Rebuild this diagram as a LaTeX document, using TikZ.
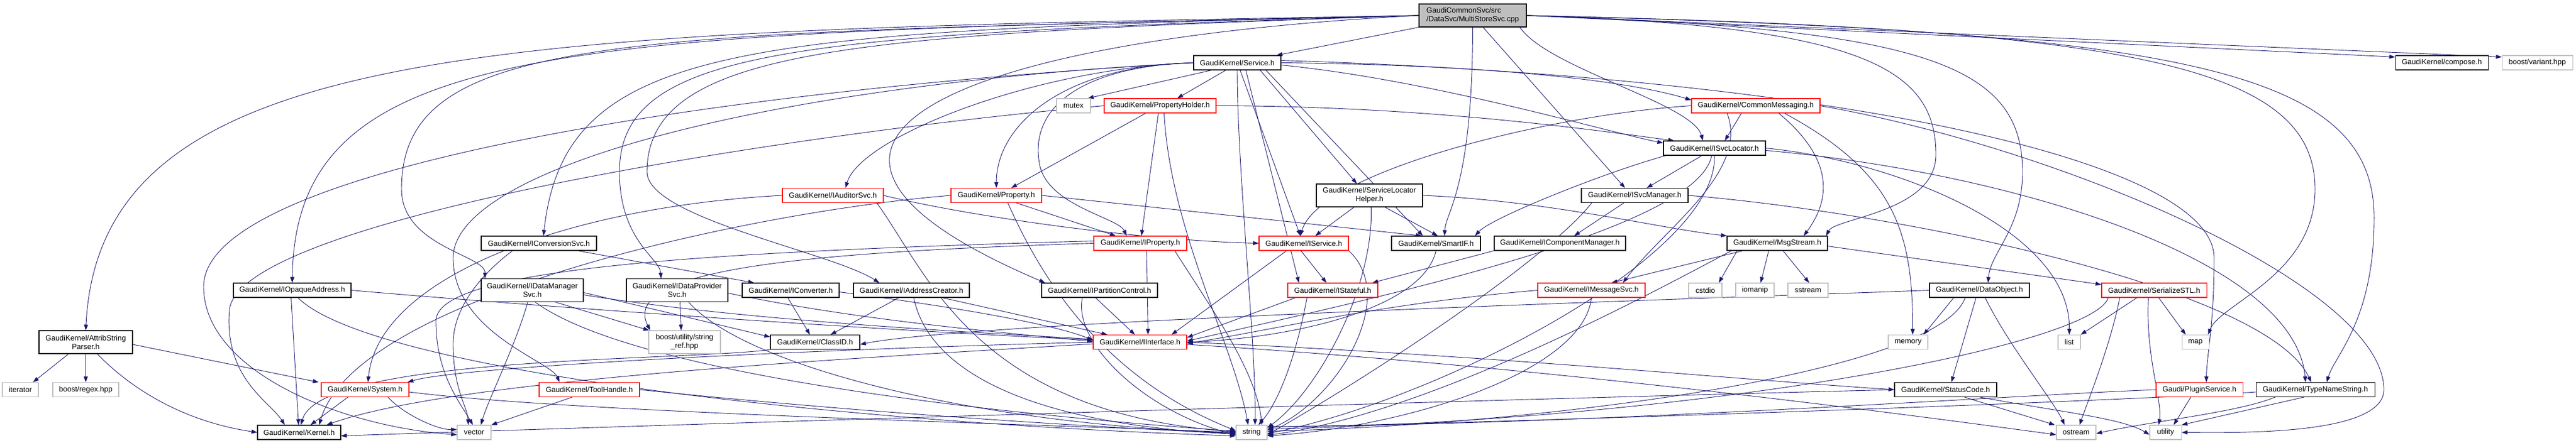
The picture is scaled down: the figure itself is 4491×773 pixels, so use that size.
\documentclass[tikz,border=0pt]{standalone}
\usepackage{fontspec}
\setmainfont{Liberation Sans}
\usetikzlibrary{arrows.meta,backgrounds}
\definecolor{edgec}{HTML}{191970}
\definecolor{dred}{HTML}{FF0000}
\definecolor{dgray}{HTML}{BFBFBF}
\newcommand\nd[7]{\node[#1,minimum width=#5pt,minimum height=#6pt] (#2) at (#3,#4) {#7};}
\begin{document}
\begin{tikzpicture}[x=1pt,y=-1pt,
  edg/.style={draw=edgec,line width=0.9pt,-{Triangle[length=10pt,width=7pt]}},
  nbase/.style={line width=1.1pt,fill=white,inner sep=0pt,align=center,font=\fontsize{13}{15}\selectfont},
  nb/.style={nbase,draw=black},
  nr/.style={nbase,draw=dred},
  ng/.style={nbase,draw=dgray},
  nm/.style={nbase,draw=black,fill=dgray,align=left}]
\useasboundingbox (0,0) rectangle (4491,773);
% ---------- nodes ----------
\nd{nm}{main}{2567.5}{27}{187}{40}{GaudiCommonSvc/src\\/DataSvc/MultiStoreSvc.cpp}
\nd{nb}{svc}{2157}{109.5}{152}{25}{GaudiKernel/Service.h}
\nd{nb}{compose}{4257}{109.5}{162}{25}{GaudiKernel/compose.h}
\nd{ng}{variant}{4423.5}{109.5}{123}{25}{boost/variant.hpp}
\nd{ng}{mutex}{1871.5}{184.5}{59}{25}{mutex}
\nd{nr}{ph}{2022.5}{184.5}{195}{25}{GaudiKernel/PropertyHolder.h}
\nd{nr}{cm}{3061}{184.5}{224}{25}{GaudiKernel/CommonMessaging.h}
\nd{nb}{islo}{2989}{258.5}{178}{25}{GaudiKernel/ISvcLocator.h}
\nd{nr}{iaud}{1452}{341}{176}{25}{GaudiKernel/IAuditorSvc.h}
\nd{nr}{prop}{1737}{341}{158}{25}{GaudiKernel/Property.h}
\nd{nb}{slh}{2387.5}{341}{185}{40}{GaudiKernel/ServiceLocator\\Helper.h}
\nd{nb}{ism}{2850}{341}{186}{25}{GaudiKernel/ISvcManager.h}
\nd{nb}{icv}{939.5}{424.5}{201}{25}{GaudiKernel/IConversionSvc.h}
\nd{nr}{iprop}{1988}{424.5}{162}{25}{GaudiKernel/IProperty.h}
\nd{nr}{isrv}{2273}{424.5}{156}{25}{GaudiKernel/IService.h}
\nd{nb}{smart}{2503.5}{424.5}{155}{25}{GaudiKernel/SmartIF.h}
\nd{nb}{icm}{2719.5}{424.5}{229}{25}{GaudiKernel/IComponentManager.h}
\nd{nb}{ms}{3098.5}{424.5}{175}{25}{GaudiKernel/MsgStream.h}
\nd{nb}{ioa}{509.5}{506.5}{205}{25}{GaudiKernel/IOpaqueAddress.h}
\nd{nb}{idm}{928}{506.5}{178}{40}{GaudiKernel/IDataManager\\Svc.h}
\nd{nb}{idp}{1180.5}{506.5}{177}{40}{GaudiKernel/IDataProvider\\Svc.h}
\nd{nb}{icvt}{1378.5}{506.5}{169}{25}{GaudiKernel/IConverter.h}
\nd{nb}{iac}{1589}{506.5}{202}{25}{GaudiKernel/IAddressCreator.h}
\nd{nb}{ipc}{1917}{506.5}{202}{25}{GaudiKernel/IPartitionControl.h}
\nd{nr}{ist}{2323.5}{506.5}{157}{25}{GaudiKernel/IStateful.h}
\nd{nr}{imsg}{2774.5}{506.5}{187}{25}{GaudiKernel/IMessageSvc.h}
\nd{ng}{cstdio}{2973}{506.5}{58}{25}{cstdio}
\nd{ng}{iomanip}{3059.5}{506.5}{67}{25}{iomanip}
\nd{ng}{sstream}{3152}{506.5}{70}{25}{sstream}
\nd{nb}{do}{3451}{506.5}{174}{25}{GaudiKernel/DataObject.h}
\nd{nr}{ser}{3755.5}{506.5}{183}{25}{GaudiKernel/SerializeSTL.h}
\nd{nb}{asp}{149.5}{597}{163}{40}{GaudiKernel/AttribString\\Parser.h}
\nd{ng}{sref}{1193.5}{597}{125}{40}{boost/utility/string\\\_ref.hpp}
\nd{nb}{cid}{1421}{597}{156}{25}{GaudiKernel/ClassID.h}
\nd{nr}{iint}{1987.5}{597}{163}{25}{GaudiKernel/IInterface.h}
\nd{ng}{memory}{3326.5}{597}{69}{25}{memory}
\nd{ng}{list}{3607.5}{597}{39}{25}{list}
\nd{ng}{map}{3827.5}{597}{47}{25}{map}
\nd{ng}{iter}{35.5}{680}{63}{25}{iterator}
\nd{ng}{regex}{149.5}{680}{115}{25}{boost/regex.hpp}
\nd{nr}{sys}{636.5}{680}{153}{25}{GaudiKernel/System.h}
\nd{nr}{th}{1027.5}{680}{175}{25}{GaudiKernel/ToolHandle.h}
\nd{nb}{sc}{3392}{680}{178}{25}{GaudiKernel/StatusCode.h}
\nd{nr}{plug}{3834.5}{680}{151}{25}{Gaudi/PluginService.h}
\nd{nb}{tns}{4036.5}{680}{207}{25}{GaudiKernel/TypeNameString.h}
\nd{nb}{kern}{521.5}{754.5}{145}{25}{GaudiKernel/Kernel.h}
\nd{ng}{vec}{826.5}{754.5}{59}{25}{vector}
\nd{ng}{str}{2182}{754.5}{54}{25}{string}
\nd{ng}{ostream}{3619.5}{754.5}{69}{25}{ostream}
\nd{ng}{util}{3775.5}{754.5}{55}{25}{utility}
% ---------- edges ----------
\begin{scope}[on background layer]
% main
\draw[edg] (main.west) .. controls (900,55) and (175,60) .. (asp.north);
\draw[edg] (main.west) .. controls (1000,60) and (515,60) .. (ioa.north);
\draw[edg] (main.west) .. controls (1100,60) and (700,50) .. (700,330) .. controls (700,430) and (846,445) .. ([xshift=7pt]idm.north west);
\draw[edg] (main.west) .. controls (1300,55) and (985,70) .. ([xshift=8pt]icv.north);
\draw[edg] (main.west) .. controls (1400,60) and (1080,80) .. (1080,300) .. controls (1080,420) and (1150,450) .. ([xshift=-28pt]idp.north);
\draw[edg] (main.west) .. controls (1500,60) and (1128,80) .. (1128,300) .. controls (1128,380) and (1450,440) .. ([xshift=-56pt]iac.north);
\draw[edg] (main.west) .. controls (1650,70) and (1250,250) .. ([xshift=-95pt]ipc.north);
\draw[edg] (main.south west) -- ([xshift=-8pt]svc.north east);
\draw[edg] ([xshift=-12pt]main.south east) .. controls (2700,120) and (2950,180) .. ([xshift=-20pt]islo.north);
\draw[edg] ([xshift=18pt]main.south) -- ([xshift=-17pt]ism.north);
\draw[edg] (main.south) .. controls (2567,330) and (2520,370) .. ([xshift=15pt]smart.north);
\draw[edg] (main.east) .. controls (3250,45) and (3375,120) .. (3375,270) .. controls (3375,370) and (3200,380) .. ([xshift=-3pt]ms.north east);
\draw[edg] (main.east) .. controls (3350,50) and (3526,110) .. (3526,300) .. controls (3526,400) and (3470,440) .. ([xshift=15pt]do.north);
\draw[edg] (main.east) .. controls (3700,50) and (4036,110) .. (4036,330) .. controls (4036,480) and (3870,530) .. ([xshift=-2pt]map.north east);
\draw[edg] (main.east) .. controls (3800,55) and (4139,120) .. (4139,380) .. controls (4139,560) and (4070,620) .. ([xshift=20pt]tns.north);
\draw[edg] (main.east) -- ([yshift=-3pt]compose.north west);
\draw[edg] (main.east) -- ([yshift=-3pt]variant.north west);
% Service.h
\draw[edg] ([xshift=-45pt]svc.south) -- ([xshift=-5pt]mutex.north east);
\draw[edg] ([xshift=-20pt]svc.south) -- ([xshift=30pt]ph.north);
\draw[edg] (svc.west) .. controls (1850,115) and (1737,220) .. (prop.north);
\draw[edg] (svc.west) .. controls (1800,120) and (1500,240) .. ([xshift=22pt]iaud.north);
\draw[edg] (svc.east) .. controls (2500,112) and (2800,130) .. ([yshift=-3pt]cm.north west);
\draw[edg] ([yshift=-4pt]svc.east) .. controls (2500,140) and (2800,230) .. ([yshift=-4pt]islo.north west);
\draw[edg] ([xshift=40pt]svc.south) -- ([xshift=-22pt]slh.north);
\draw[edg] ([xshift=50pt]svc.south) -- ([xshift=-23pt]smart.north);
\draw[edg] ([xshift=5pt]svc.south) -- ([xshift=-6pt]isrv.north);
\draw[edg] ([xshift=15pt]svc.south) -- ([xshift=-59pt]ist.north);
\draw[edg] (svc.west) .. controls (1900,115) and (1790,180) .. (1813,290) .. controls (1830,360) and (1950,380) .. ([xshift=-24pt]iprop.north);
\draw[edg] (svc.west) .. controls (1300,150) and (790,300) .. (790,450) .. controls (790,580) and (960,630) .. ([xshift=-52pt]th.north);
\draw[edg] ([yshift=4pt]svc.east) .. controls (3200,135) and (3860,280) .. (3860,450) .. controls (3860,570) and (3847,620) .. ([xshift=12pt]plug.north);
\draw[edg] (svc.west) .. controls (1200,160) and (355,300) .. (355,500) .. controls (355,650) and (600,745) .. ([yshift=-4pt]vec.west);
\draw[edg] (svc.south) .. controls (2157,300) and (2190,600) .. ([xshift=6pt]str.north);
% PropertyHolder.h
\draw[edg] ([xshift=-25pt]ph.south) -- ([xshift=26pt]prop.north);
\draw[edg] ([xshift=-3pt]ph.south) -- ([xshift=2pt]iprop.north);
\draw[edg] ([xshift=7pt]ph.south) .. controls (2040,400) and (2150,600) .. ([xshift=-6pt]str.north);
\draw[edg] (ph.east) .. controls (2500,185) and (2800,230) .. ([xshift=19pt]islo.north west);
\draw[edg] (ph.west) .. controls (1400,230) and (420,380) .. (400,540) .. controls (390,660) and (470,700) .. ([xshift=-25pt]kern.north);
% Property.h
\draw[edg] ([xshift=35pt]prop.south) -- ([xshift=-43pt]iprop.north);
\draw[edg] (prop.east) -- ([xshift=-25pt]smart.north);
\draw[edg] ([xshift=20pt]prop.south) .. controls (1800,450) and (1900,650) .. ([yshift=3pt]str.west);
\draw[edg] (prop.west) .. controls (1300,370) and (620,520) .. ([xshift=35pt]kern.north);
% IAuditorSvc.h
\draw[edg] (iaud.east) .. controls (1700,380) and (2000,420) .. (isrv.west);
\draw[edg] ([xshift=-12pt]iaud.south east) .. controls (1620,480) and (1700,720) .. ([yshift=1pt]str.west);
\draw[edg] (iaud.west) .. controls (1000,360) and (660,480) .. ([xshift=5pt]sys.north);
% ServiceLocatorHelper.h
\draw[edg] ([xshift=-27pt]slh.south) -- ([xshift=20pt]isrv.north);
\draw[edg] ([xshift=3pt]slh.south) .. controls (2395,500) and (2300,680) .. ([yshift=8pt]str.east);
\draw[edg] ([xshift=27pt]slh.south) -- ([xshift=3pt]smart.north);
\draw[edg] (slh.east) .. controls (2700,350) and (2900,400) .. (ms.north west);
% ISvcLocator.h
\draw[edg] ([xshift=-22pt]islo.south) -- ([xshift=21pt]ism.north);
\draw[edg] ([xshift=-85pt]islo.south) .. controls (2800,300) and (2600,380) .. ([xshift=-10pt]smart.north east);
\draw[edg] ([xshift=-5pt]islo.south) .. controls (2960,400) and (2400,520) .. ([yshift=2pt]iint.east);
\draw[edg] (islo.south) .. controls (2995,450) and (2500,700) .. ([yshift=-2pt]str.east);
\draw[edg] (islo.east) .. controls (3300,280) and (3610,400) .. (list.north);
\draw[edg] ([yshift=-4pt]islo.east) .. controls (3500,300) and (4000,450) .. ([xshift=-17pt]tns.north);
% ISvcManager.h
\draw[edg] ([xshift=-19pt]ism.south) -- ([xshift=25pt]icm.north);
\draw[edg] ([xshift=-75pt]ism.south) .. controls (2700,450) and (2400,650) .. ([yshift=-4pt]str.east);
\draw[edg] (ism.east) .. controls (3300,370) and (3950,500) .. ([xshift=-7pt]tns.north);
% IComponentManager.h
\draw[edg] (icm.south west) -- ([xshift=-10pt]ist.north east);
% CommonMessaging.h
\draw[edg] ([xshift=-25pt]cm.south) -- ([xshift=18pt]islo.north);
\draw[edg] (cm.west) .. controls (2700,200) and (2300,300) .. ([xshift=-6pt]isrv.north);
\draw[edg] ([xshift=-50pt]cm.south) .. controls (3050,300) and (2900,400) .. ([xshift=55pt]imsg.north);
\draw[edg] ([xshift=40pt]cm.south) .. controls (3200,280) and (3190,350) .. ([xshift=-42pt]ms.north east);
\draw[edg] ([xshift=50pt]cm.south) .. controls (3300,300) and (3335,400) .. ([xshift=8pt]memory.north);
\draw[edg] (cm.east) .. controls (3600,260) and (4156,500) .. (4156,680) .. controls (4156,760) and (3900,755) .. (util.east);
% MsgStream.h
\draw[edg] ([xshift=-60pt]ms.south) -- ([xshift=35pt]imsg.north);
\draw[edg] ([xshift=-70pt]ms.south) -- ([xshift=-6pt]cstdio.north east);
\draw[edg] ([xshift=-15pt]ms.south) -- ([xshift=10pt]iomanip.north);
\draw[edg] ([xshift=10pt]ms.south) -- ([xshift=2pt]sstream.north);
\draw[edg] ([yshift=-5pt]ms.east) -- ([yshift=-3pt]ser.north west);
\draw[edg] ([xshift=-80pt]ms.south) .. controls (2900,500) and (2500,720) .. ([yshift=-5pt]str.east);
% IMessageSvc.h
\draw[edg] (imsg.west) .. controls (2400,530) and (2200,580) .. ([yshift=-2pt]iint.east);
\draw[edg] (imsg.south) .. controls (2760,650) and (2450,745) .. ([yshift=-6pt]str.east);
% IInterface.h
\draw[edg] ([yshift=-3pt]iint.west) .. controls (1500,625) and (800,660) .. ([xshift=48pt]kern.north);
\draw[edg] (iint.west) .. controls (1400,610) and (800,640) .. ([xshift=-3pt]sys.north east);
\draw[edg] (iint.east) .. controls (2600,620) and (3000,660) .. (sc.west);
\draw[edg] ([yshift=-4pt]iint.east) .. controls (2700,640) and (3300,720) .. ([yshift=-4pt]ostream.west);
% IService.h
\draw[edg] ([xshift=-5pt]isrv.south) -- ([xshift=-11pt]ist.north);
\draw[edg] ([xshift=-30pt]isrv.south) -- ([xshift=55pt]iint.north);
\draw[edg] (isrv.south east) .. controls (2440,520) and (2330,700) .. ([yshift=4pt]str.east);
% IStateful.h
\draw[edg] ([xshift=-65pt]ist.south) -- ([yshift=-5pt]iint.north east);
\draw[edg] ([xshift=-45pt]ist.south) .. controls (2260,620) and (2230,700) .. ([xshift=12pt]str.north);
% SmartIF.h
\draw[edg] (smart.south) .. controls (2480,540) and (2250,590) .. (iint.east);
% IConverter.h / IConversionSvc.h
\draw[edg] ([xshift=-5pt]icvt.south) -- ([xshift=-9pt]cid.north);
\draw[edg] ([yshift=-3pt]icvt.east) .. controls (1700,540) and (1850,570) .. ([yshift=3pt]iint.west);
\draw[edg] ([xshift=68pt]icv.south) -- ([xshift=-64pt]icvt.north);
\draw[edg] ([xshift=-46pt]icv.south) .. controls (850,470) and (790,530) .. (790,600) .. controls (790,680) and (815,710) .. ([xshift=-10pt]vec.north);
% IDataManagerSvc.h
\draw[edg] ([xshift=-8pt]idm.south) .. controls (900,600) and (850,700) .. ([xshift=12pt]vec.north);
\draw[edg] ([xshift=40pt]idm.south) -- ([xshift=-62pt]sref.north);
\draw[edg] ([yshift=-4pt]idm.east) -- ([yshift=-4pt]cid.north west);
\draw[edg] ([yshift=-8pt]idm.east) .. controls (1300,560) and (1700,580) .. ([yshift=5pt]iint.west);
\draw[edg] ([xshift=5pt]idm.south) .. controls (1100,650) and (1700,720) .. ([yshift=2pt]str.west);
% IDataProviderSvc.h
\draw[edg] ([xshift=5pt]idp.south) -- ([xshift=-6pt]sref.north);
\draw[edg] ([yshift=-5pt]idp.east) .. controls (1500,560) and (1750,580) .. ([yshift=1pt]iint.west);
\draw[edg] ([xshift=20pt]idp.south) .. controls (1300,640) and (1700,740) .. ([yshift=-1pt]str.west);
% IAddressCreator.h
\draw[edg] ([xshift=-22pt]iac.south) -- ([xshift=27pt]cid.north);
\draw[edg] ([xshift=54pt]iac.south) -- ([xshift=-57pt]iint.north);
\draw[edg] ([xshift=4pt]iac.south) .. controls (1620,650) and (1800,740) .. ([yshift=-3pt]str.west);
% IPartitionControl.h
\draw[edg] ([xshift=-30pt]ipc.south) .. controls (1870,600) and (2000,720) .. ([yshift=-4pt]str.west);
\draw[edg] ([xshift=-7pt]ipc.south) -- ([xshift=-9pt]iint.north);
% IOpaqueAddress.h
\draw[edg] ([xshift=-2pt]ioa.south) -- ([xshift=-1pt]kern.north);
\draw[edg] (ioa.east) .. controls (1000,540) and (1600,580) .. ([yshift=4pt]iint.west);
\draw[edg] ([xshift=10pt]ioa.south) .. controls (650,650) and (1500,740) .. ([yshift=-6pt]str.west);
% AttribStringParser.h
\draw[edg] ([xshift=-30pt]asp.south) -- ([xshift=-10pt]iter.north east);
\draw[edg] (asp.south) -- (regex.north);
\draw[edg] ([xshift=20pt]asp.south) .. controls (250,700) and (350,740) .. (kern.west);
\draw[edg] ([yshift=-4pt]asp.east) -- ([xshift=-4pt]sys.north west);
% ToolHandle.h
\draw[edg] ([xshift=-30pt]th.south) -- (vec.north east);
\draw[edg] (th.east) .. controls (1500,720) and (1900,745) .. ([yshift=-2pt]str.west);
% System.h
\draw[edg] ([xshift=-30pt]sys.south) -- ([xshift=20pt]kern.north);
\draw[edg] ([yshift=-4pt]sys.east) .. controls (1000,720) and (1800,740) .. (str.west);
\draw[edg] ([xshift=40pt]sys.south) .. controls (700,720) and (760,750) .. ([yshift=5pt]vec.west);
% IProperty.h
\draw[edg] ([xshift=11pt]iprop.south) -- ([xshift=14pt]iint.north);
\draw[edg] ([xshift=60pt]iprop.south) .. controls (2120,550) and (2190,650) .. ([xshift=18pt]str.north);
\draw[edg] (iprop.west) .. controls (1400,440) and (1080,470) .. ([xshift=-60pt]sref.north);
\draw[edg] ([yshift=4pt]iprop.west) .. controls (1200,440) and (760,470) .. (760,560) .. controls (760,650) and (800,700) .. ([xshift=-2pt]vec.north);
% DataObject.h
\draw[edg] ([xshift=-45pt]do.south) -- ([xshift=-8pt]memory.north east);
\draw[edg] ([xshift=-6pt]do.south) -- ([xshift=10pt]sc.north);
\draw[edg] ([xshift=10pt]do.south) .. controls (3500,600) and (3580,700) .. ([xshift=-20pt]ostream.north);
\draw[edg] (do.west) .. controls (3000,520) and (1700,560) .. ([yshift=-4pt]cid.east);
\draw[edg] ([xshift=-25pt]do.south) .. controls (3380,650) and (2700,740) .. ([yshift=2pt]str.east);
% SerializeSTL.h
\draw[edg] ([xshift=-30pt]ser.south) -- (list.north east);
\draw[edg] ([xshift=-60pt]ser.south) .. controls (3680,600) and (3640,700) .. ([xshift=6pt]ostream.north);
\draw[edg] ([xshift=8pt]ser.south) -- ([xshift=-17pt]map.north);
\draw[edg] ([xshift=-10pt]ser.south) .. controls (3740,620) and (3770,700) .. ([xshift=-12pt]util.north);
\draw[edg] ([xshift=-80pt]ser.south) .. controls (3650,600) and (3000,730) .. ([yshift=6pt]str.east);
% StatusCode.h
\draw[edg] ([xshift=33pt]sc.south) -- ([xshift=-2pt]ostream.north west);
\draw[edg] ([xshift=60pt]sc.south) .. controls (3600,720) and (3700,730) .. ([yshift=-4pt]util.west);
\draw[edg] (sc.west) .. controls (2500,700) and (1200,740) .. ([yshift=-6pt]kern.east);
% TypeNameString.h
\draw[edg] ([yshift=-4pt]tns.west) .. controls (3700,700) and (2700,735) .. ([yshift=9pt]str.east);
\draw[edg] ([xshift=-20pt]tns.south) -- (util.north east);
\draw[edg] ([xshift=-70pt]tns.south) .. controls (3900,720) and (3750,735) .. ([yshift=-2pt]ostream.east);
% PluginService.h
\draw[edg] ([xshift=-15pt]plug.south) -- ([xshift=14pt]util.north);
\draw[edg] (plug.west) .. controls (3500,690) and (2800,740) .. ([yshift=10pt]str.east);
% ClassID.h
\draw[edg] (cid.south west) .. controls (1200,630) and (560,620) .. ([xshift=3pt]kern.north);
\end{scope}
\end{tikzpicture}
\end{document}
